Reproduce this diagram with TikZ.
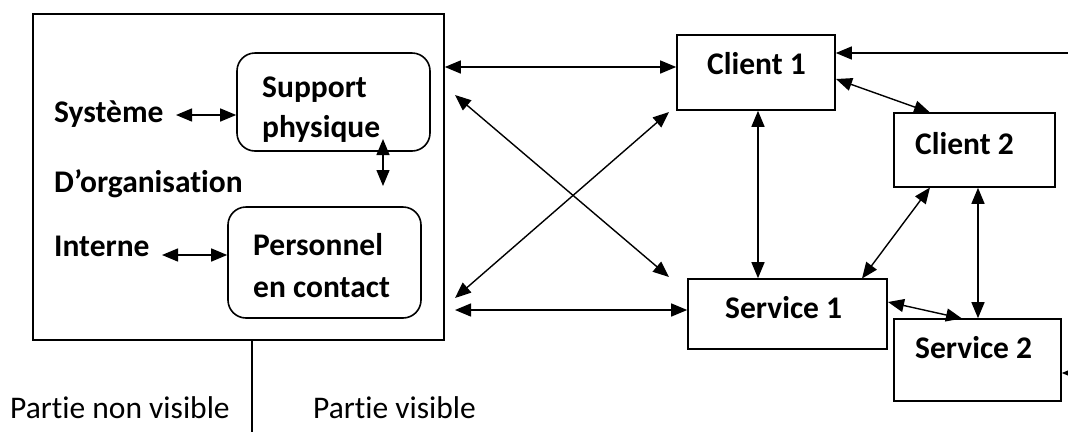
\documentclass[tikz,border=0pt]{standalone}
\usepackage{fontspec}
\setmainfont[Ligatures=NoCommon]{Carlito}
\usetikzlibrary{arrows.meta}
\begin{document}
\begin{tikzpicture}[x=1pt,y=-1pt,
  box/.style={draw,line width=1.6pt,inner sep=0pt},
  rbox/.style={box,rounded corners=18pt},
  lbl/.style={font=\fontsize{31.5}{36}\selectfont\bfseries,inner sep=0pt,anchor=base west},
  plain/.style={font=\fontsize{31.5}{36}\selectfont,inner sep=0pt,anchor=base west},
  tip/.tip={Triangle[length=16pt,width=13pt]},
  arr/.style={line width=1.4pt,{tip}-{tip}},
  one/.style={line width=1.4pt,-{tip}},
  rule/.style={line width=1.4pt}]
\useasboundingbox (0,0) rectangle (1068,432);
% boxes
\node[box,minimum width=411pt,minimum height=326pt] (big) at (238.5,177) {};
\node[rbox,minimum width=193pt,minimum height=98pt] (sup) at (333.5,102) {};
\node[rbox,minimum width=193pt,minimum height=111pt] (pers) at (324.5,262.5) {};
\node[box,minimum width=158pt,minimum height=75pt] (c1) at (756,72.5) {};
\node[box,minimum width=161pt,minimum height=74pt] (c2) at (974.5,150) {};
\node[box,minimum width=199pt,minimum height=70pt] (s1) at (787.5,314) {};
\node[box,minimum width=167pt,minimum height=82pt] (s2) at (977.5,360) {};
% texts
\node[lbl] (tsys) at (54,122) {Système};
\node[lbl] (torg) at (54,192) {D’organisation};
\node[lbl] (tint) at (54,256) {Interne};
\node[lbl] (tsup1) at (262,97) {Support};
\node[lbl] (tsup2) at (262,137) {physique};
\node[lbl] (tper1) at (253,255) {Personnel};
\node[lbl] (tper2) at (253,297) {en contact};
\node[lbl] (tc1) at (707,74) {Client 1};
\node[lbl] (tc2) at (915,154) {Client 2};
\node[lbl] (ts1) at (725,318) {Service 1};
\node[lbl] (ts2) at (915,358) {Service 2};
\node[plain] (tnv) at (10,418) {Partie non visible};
\node[plain] (tv) at (313,418) {Partie visible};
% free ends
\coordinate (d1a) at (455,95);
\coordinate (d1b) at (669,277);
\coordinate (d2a) at (455,298);
\coordinate (d2b) at (669,112);
\coordinate (edgeTop) at (1068,53);
\coordinate (edgeBot) at (1068,373);
\coordinate (bottom) at (252,432);
\coordinate (sysA) at (176,115);
\coordinate (intA) at (162,255);
% inner connectors
\draw[arr] (sysA) -- (sysA -| sup.west);
\draw[arr] (intA) -- (intA -| pers.west);
\draw[arr] (383,139) -- (383,186);
% divider
\draw[rule] (big.south -| bottom) -- (bottom);
% connectors between blocks
\draw[arr] (big.east |- 0,67) -- (c1.west |- 0,67);
\draw[arr] (455,310) -- (s1.west |- 0,310);
\draw[arr] (d1a) -- (d1b);
\draw[arr] (d2a) -- (d2b);
\draw[arr] (c1.south -| 758,0) -- (s1.north -| 758,0);
\draw[arr] (836,79) -- (930,112.5);
\draw[one] (edgeTop) -- (edgeTop -| c1.east);
\draw[arr] (930,187.5) -- (862,278.5);
\draw[arr] (c2.south -| 978,0) -- (s2.north -| 978,0);
\draw[arr] (888,302) -- (962,318.5);
\draw[one] (edgeBot) -- (edgeBot -| s2.east);
\end{tikzpicture}
\end{document}
